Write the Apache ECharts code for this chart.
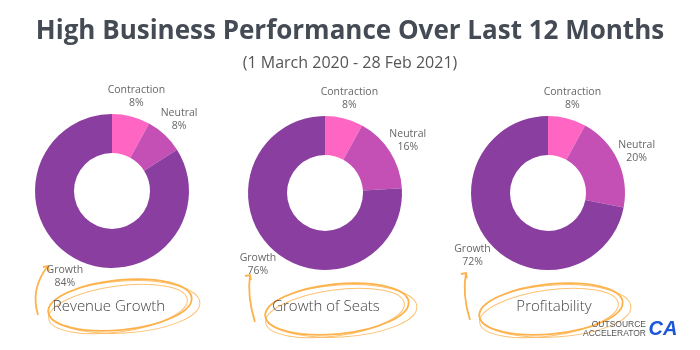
<!DOCTYPE html>
<html>
<head>
<meta charset="utf-8">
<script src="https://cdn.jsdelivr.net/npm/echarts@6/dist/echarts.min.js"></script>
<style>
  html, body { margin: 0; padding: 0; background: #fff; }
  #main { width: 700px; height: 350px; }
</style>
</head>
<body>
<div id="main"></div>
<script>
// data
var categories = ['Contraction', 'Neutral', 'Growth'];
var revenueGrowth = [8, 8, 84];
var growthOfSeats = [8, 16, 76];
var profitability = [8, 20, 72];
var chartNames = ['Revenue Growth', 'Growth of Seats', 'Profitability'];

var colors = ['#FF66C4', '#C44FB5', '#8A3FA0'];
var orange = '#FDB24B';

var myChart = echarts.init(document.getElementById('main'));

function pieSeries(name, values, center) {
  return {
    name: name,
    type: 'pie',
    center: center,
    radius: [38, 77],
    startAngle: 90,
    clockwise: true,
    avoidLabelOverlap: false,
    silent: true,
    data: categories.map(function (c, i) {
      return { name: c, value: values[i], itemStyle: { color: colors[i] } };
    }),
    label: {
      show: true,
      position: 'outside',
      formatter: '{b}\n{d}%',
      color: '#666',
      fontSize: 10.5,
      lineHeight: 13,
      fontFamily: 'Open Sans',
      distanceToLabelLine: 0
    },
    labelLine: { show: false, length: 21, length2: 0 },
    labelLayout: { align: 'center', hideOverlap: false }
  };
}

// orange scribble round the caption + small arrow
function scribble(cx, cy, ax, ay, bx, by) {
  var els = [];
  var rings = [[0, 0, 72, 25, 0.1], [4, 2, 76, 26, 0.06], [-2, 4, 70, 23, 0.14]];
  rings.forEach(function (r, i) {
    els.push({
      type: 'ellipse', x: cx + r[0], y: cy + r[1], rotation: r[4],
      shape: { cx: 0, cy: 0, rx: r[2], ry: r[3] },
      style: { fill: 'none', stroke: orange, lineWidth: i === 0 ? 1.8 : 1, opacity: i === 0 ? 1 : 0.8 }
    });
  });
  els.push({
    type: 'bezierCurve',
    shape: { x1: ax, y1: ay, x2: bx, y2: by, cpx1: ax - 8, cpy1: (ay + by) / 2 - 2 },
    style: { fill: 'none', stroke: orange, lineWidth: 1.8 }
  });
  els.push({
    type: 'polyline',
    shape: { points: [[bx - 5, by + 1], [bx, by], [bx + 1, by + 5]] },
    style: { fill: 'none', stroke: orange, lineWidth: 1.8 }
  });
  return els;
}

var centers = [[112, 191], [325, 193], [548, 193]];
var captionX = [109, 326, 554];

var graphics = [];
graphics = graphics.concat(scribble(120, 305, 38, 315, 48, 266));
graphics = graphics.concat(scribble(337, 309, 255, 322, 250, 275));
graphics = graphics.concat(scribble(551, 309, 470, 320, 466, 273));

chartNames.forEach(function (n, i) {
  graphics.push({
    type: 'text', x: captionX[i], y: 307,
    style: {
      text: n, fill: '#444', fontSize: 15, fontWeight: 300, fontFamily: 'Open Sans',
      align: 'center', verticalAlign: 'middle'
    }
  });
});

// logo
graphics.push({
  type: 'text', x: 646, y: 329,
  style: {
    text: 'OUTSOURCE\nACCELERATOR', fill: '#555', fontSize: 8.5, lineHeight: 9,
    fontFamily: 'Liberation Sans', align: 'right', verticalAlign: 'middle'
  }
});
graphics.push({
  type: 'text', x: 663, y: 329,
  style: {
    text: 'CA', fill: '#1C57D8', fontSize: 20, fontWeight: 'bold', fontStyle: 'italic',
    fontFamily: 'Liberation Sans', align: 'center', verticalAlign: 'middle'
  }
});

var option = {
  backgroundColor: '#fff',
  animation: false,
  title: [
    {
      text: 'High Business Performance Over Last 12 Months',
      left: 'center', top: 14,
      textStyle: { fontSize: 26, fontWeight: 'bold', color: '#454B54', fontFamily: 'Open Sans' }
    },
    {
      text: '(1 March 2020 - 28 Feb 2021)',
      left: 'center', top: 50,
      textStyle: { fontSize: 16, fontWeight: 'normal', color: '#555', fontFamily: 'Open Sans' }
    }
  ],
  series: [
    pieSeries(chartNames[0], revenueGrowth, centers[0]),
    pieSeries(chartNames[1], growthOfSeats, centers[1]),
    pieSeries(chartNames[2], profitability, centers[2])
  ],
  graphic: graphics
};

myChart.setOption(option);
</script>
</body>
</html>
